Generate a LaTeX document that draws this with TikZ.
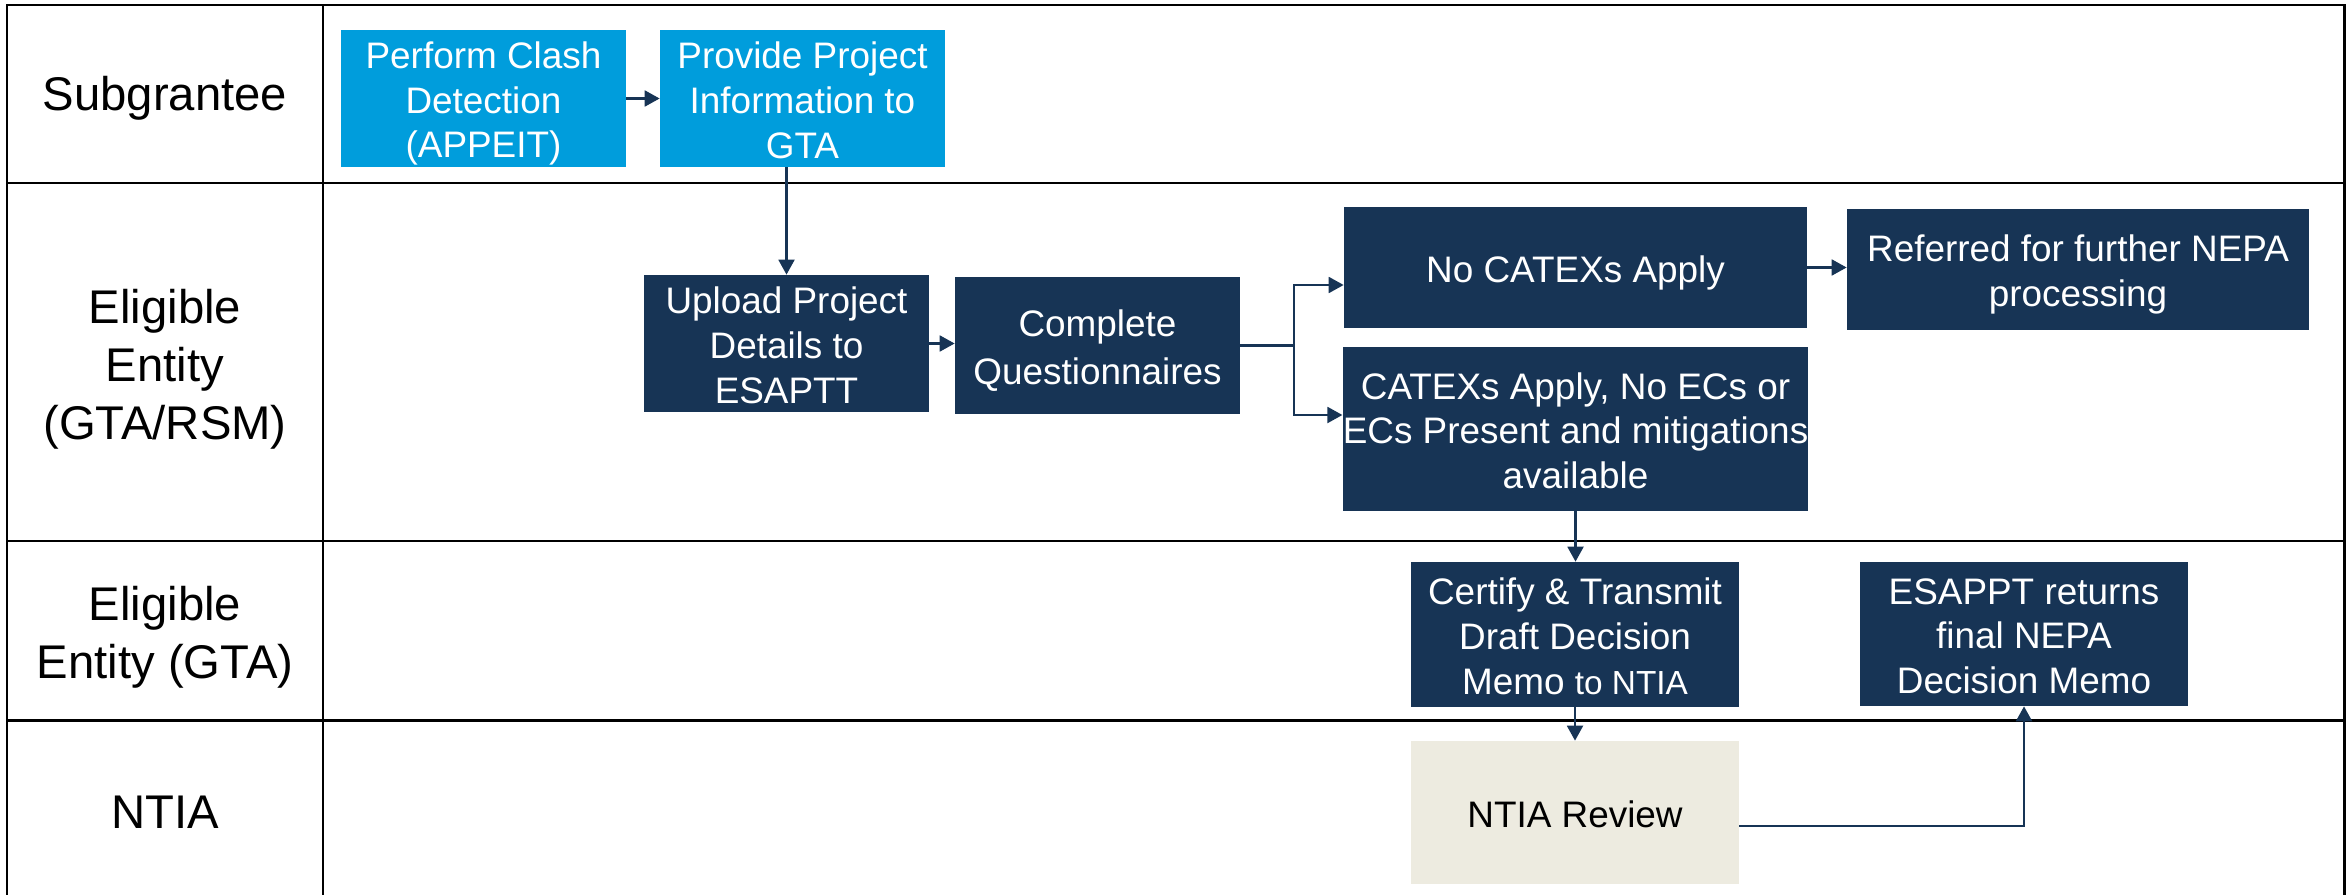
\documentclass[tikz,border=0pt]{standalone}
\usepackage{fontspec}
\setmainfont{Liberation Sans}
\usetikzlibrary{arrows.meta}
\definecolor{lblue}{RGB}{0,157,220}
\definecolor{navy}{RGB}{23,52,85}
\definecolor{beige}{RGB}{237,235,224}
\tikzset{
  grid/.style={line width=1.7pt, black},
  lane/.style={font=\fontsize{26.9}{33}\selectfont, align=center, text=black},
  toph/.style={execute at begin node={\rule{0pt}{#1}}},
  boxbase/.style={rectangle, inner sep=0pt, align=center, font=\fontsize{21}{25.5}\selectfont,
    toph=21pt, execute at end node={\rule[-4pt]{0pt}{4pt}}},
  twolines/.style={toph=46.5pt},
  threelines/.style={toph=72pt},
  bluebox/.style={boxbase, fill=lblue, text=white},
  navybox/.style={boxbase, fill=navy, text=white},
  beigebox/.style={boxbase, fill=beige, text=black},
  conn/.style={line width=1.4pt, navy},
  arr/.style={conn, -{Triangle[length=8.5pt,width=9pt]}}
}
\begin{document}
\begin{tikzpicture}[x=0.02cm, y=-0.02cm]
\useasboundingbox (0,0) rectangle (2351,895);
% swimlane grid
\draw[grid] (7,895) -- (7,5) -- (2344,5) -- (2344,895);
\draw[grid] (323,5) -- (323,895);
\draw[grid] (7,183) -- (2344,183);
\draw[grid] (7,541) -- (2344,541);
\draw[grid] (7,720) -- (2344,720);
% lane labels
\node[lane] (l1) at (165,98) {Subgrantee};
\node[lane] (l2) at (165,369) {Eligible\\Entity\\(GTA/RSM)};
\node[lane] (l3) at (165,637) {Eligible\\Entity (GTA)};
\node[lane] (l4) at (165,812) {NTIA};
% boxes
\node[bluebox, threelines, minimum width=285*0.02cm, minimum height=137*0.02cm] (clash) at (483.5,98.5) {Perform Clash\\Detection\\(APPEIT)};
\node[bluebox, threelines, minimum width=285*0.02cm, minimum height=137*0.02cm] (provide) at (802.5,98.5) {Provide Project\\Information to\\GTA};
\node[navybox, threelines, minimum width=285*0.02cm, minimum height=137*0.02cm] (upload) at (786.5,343.5) {Upload Project\\Details to\\ESAPTT};
\node[navybox, toph=48.2pt, minimum width=285*0.02cm, minimum height=137*0.02cm, font=\fontsize{21}{27.2}\selectfont] (complete) at (1097.5,345.5) {Complete\\Questionnaires};
\node[navybox, minimum width=463*0.02cm, minimum height=121*0.02cm] (nocatex) at (1575.5,267.5) {No CATEXs Apply};
\node[navybox, twolines, minimum width=462*0.02cm, minimum height=121*0.02cm] (referred) at (2078,269.5) {Referred for further NEPA\\processing};
\node[navybox, threelines, minimum width=463*0.02cm, minimum height=164*0.02cm] (catex) at (1575.5,429) {CATEXs Apply, No ECs or\\ECs Present and mitigations\\available};
\node[navybox, threelines, minimum width=328*0.02cm, minimum height=145*0.02cm] (certify) at (1575,634.5) {Certify \& Transmit\\Draft Decision\\Memo {\fontsize{19}{25.5}\selectfont to NTIA}};
\node[navybox, threelines, minimum width=328*0.02cm, minimum height=144*0.02cm] (esappt) at (2024,634) {ESAPPT returns\\final NEPA\\Decision Memo};
\node[beigebox, minimum width=328*0.02cm, minimum height=143*0.02cm] (review) at (1575,812.5) {NTIA Review};
% connectors
\coordinate (bt) at (1294,285);
\coordinate (bb) at (1294,415);
\draw[arr] (clash.east) -- (provide.west);
\draw[arr] (provide.south -| upload.north) -- (upload.north);
\draw[arr] (upload.east) -- (upload.east -| complete.west);
\draw[conn] (complete.east) -- (complete.east -| bt);
\draw[arr] (complete.east -| bt) |- (nocatex.west |- bt);
\draw[arr] (complete.east -| bt) |- (catex.west |- bb);
\draw[arr] (nocatex.east) -- (nocatex.east -| referred.west);
\draw[arr] (catex.south) -- (catex.south |- certify.north);
\draw[arr] (certify.south) -- (certify.south |- review.north);
\draw[arr] ([yshift=-0.27cm]review.east) -| (esappt.south);
\end{tikzpicture}
\end{document}
